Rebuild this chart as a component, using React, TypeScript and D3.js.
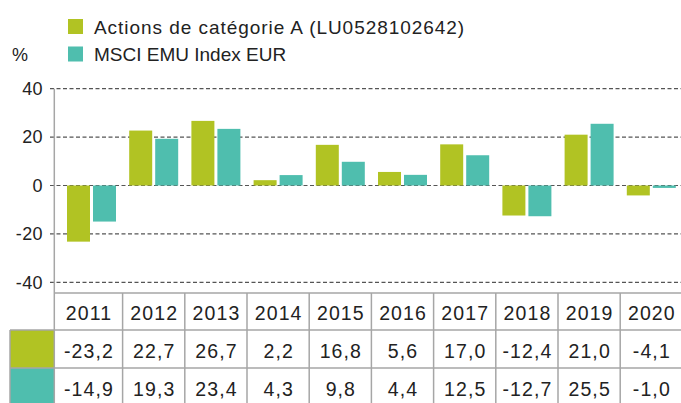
import React from "react";
import * as d3 from "d3";

const years = ["2011", "2012", "2013", "2014", "2015", "2016", "2017", "2018", "2019", "2020"];
const fundValues = [-23.2, 22.7, 26.7, 2.2, 16.8, 5.6, 17.0, -12.4, 21.0, -4.1];
const indexValues = [-14.9, 19.3, 23.4, 4.3, 9.8, 4.4, 12.5, -12.7, 25.5, -1.0];
const seriesNames = ["Actions de catégorie A (LU0528102642)", "MSCI EMU Index EUR"];
const yTicks = [40, 20, 0, -20, -40];

const W = 681;
const H = 403;
const COLORS = ["#B1C323", "#4FBEAE"];
const FONT = "'Liberation Sans', Arial, Helvetica, sans-serif";
const TEXT = "#222";
const GRID = "#555";
const BORDER = "#a6a6a6";

export default function App() {
  const axisX = 54.3;
  const x0 = d3.scaleBand<string>().domain(years).range([60.4, 682.4]).paddingInner(0).paddingOuter(0);
  const band = x0.bandwidth();
  const barW = 23;
  const gap = 3;
  const y = d3.scaleLinear().domain([-40, 40]).range([282.3, 88.7]);
  const fmt = (v: number) => v.toFixed(1).replace(".", ",");

  const tableTop = 293;
  const rowH = [37, 38, 38];
  const rowY = [tableTop, tableTop + rowH[0], tableTop + rowH[0] + rowH[1], tableTop + rowH[0] + rowH[1] + rowH[2]];
  const colEdges = [axisX, ...years.slice(1).map((yr) => x0(yr)!), x0.range()[1]];
  const series = [fundValues, indexValues];
  const ls = 1.1;

  return (
    <div style={{ position: "fixed", left: 0, top: 0, width: W, height: H, background: "#fff" }}>
      <svg width={W} height={H} style={{ display: "block" }} fontFamily={FONT}>
        {/* legend */}
        {seriesNames.map((n, i) => (
          <g key={n}>
            <rect x={68} y={19 + i * 27.5} width={15} height={15} fill={COLORS[i]} />
            <text x={94} y={33.5 + i * 27.5} fontSize={19} letterSpacing={i === 0 ? 0.95 : 0} fill={TEXT}>{n}</text>
          </g>
        ))}
        <text x={12} y={61} fontSize={18} fill={TEXT}>%</text>

        {/* grid + ticks */}
        {yTicks.map((t) => (
          <g key={t}>
            <line x1={50} x2={W} y1={y(t)} y2={y(t)} stroke={GRID} strokeWidth={1.2} strokeDasharray="4,2.5" />
            <text x={43} y={y(t)} dy="0.35em" textAnchor="end" fontSize={18} letterSpacing={0.4} fill={TEXT}>{t}</text>
          </g>
        ))}

        {/* bars */}
        {years.map((yr, i) => {
          const cx = x0(yr)! + band / 2;
          return (
            <g key={yr}>
              {series.map((s, j) => {
                const v = s[i];
                const bx = j === 0 ? cx - gap / 2 - barW : cx + gap / 2;
                return (
                  <rect key={j} x={bx} y={Math.min(y(v), y(0))} width={barW}
                    height={Math.abs(y(v) - y(0))} fill={COLORS[j]} />
                );
              })}
            </g>
          );
        })}

        {/* y axis line */}
        <line x1={axisX} x2={axisX} y1={y(40)} y2={tableTop} stroke={BORDER} strokeWidth={1.5} />

        {/* table */}
        <g>
          {series.map((_, j) => (
            <rect key={j} x={10} y={rowY[j + 1]} width={axisX - 10} height={rowH[j + 1]} fill={COLORS[j]} />
          ))}
          <line x1={axisX} x2={W} y1={rowY[0]} y2={rowY[0]} stroke={BORDER} strokeWidth={1.5} />
          <line x1={10} x2={W} y1={rowY[1]} y2={rowY[1]} stroke={BORDER} strokeWidth={1.5} />
          <line x1={10} x2={W} y1={rowY[2]} y2={rowY[2]} stroke={BORDER} strokeWidth={1.5} />
          <line x1={10} x2={10} y1={rowY[1]} y2={H} stroke={BORDER} strokeWidth={1.5} />
          {colEdges.map((cx, k) => (
            <line key={k} x1={cx} x2={cx} y1={rowY[0]} y2={H} stroke={BORDER} strokeWidth={1.5} />
          ))}
          {years.map((yr, i) => {
            const cx = (colEdges[i] + colEdges[i + 1]) / 2 + ls / 2;
            return (
              <g key={yr}>
                <text x={cx} y={rowY[0] + 27} textAnchor="middle" fontSize={19.5} letterSpacing={ls} fill={TEXT}>{yr}</text>
                {series.map((s, j) => (
                  <text key={j} x={cx} y={rowY[j + 1] + 27.5} textAnchor="middle" fontSize={19.5} letterSpacing={ls} fill={TEXT}>{fmt(s[i])}</text>
                ))}
              </g>
            );
          })}
        </g>
      </svg>
    </div>
  );
}
